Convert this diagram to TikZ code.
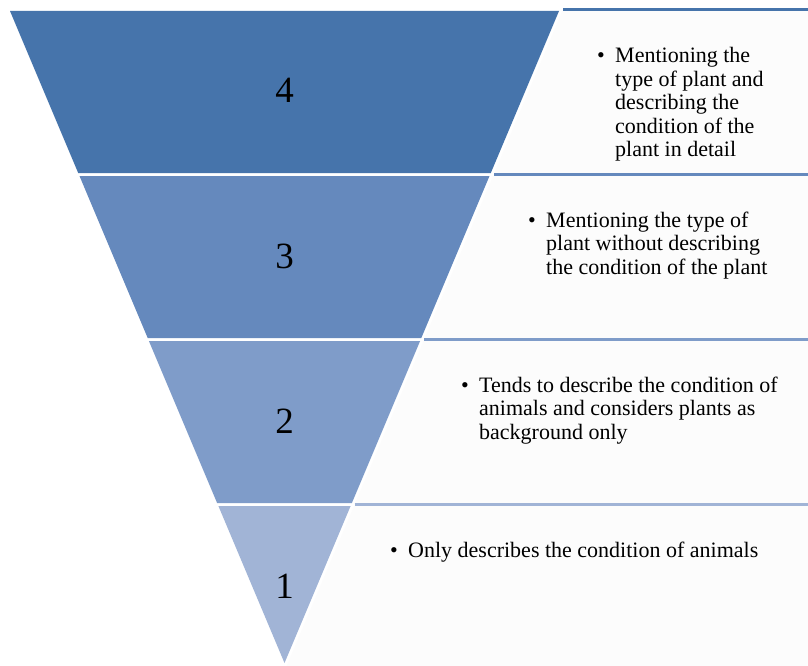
\documentclass[tikz,border=0pt]{standalone}
\usepackage{fontspec}
\setmainfont{Liberation Serif}
\definecolor{bandD}{HTML}{4674AB}
\definecolor{bandC}{HTML}{6589BD}
\definecolor{bandB}{HTML}{7F9CC9}
\definecolor{bandA}{HTML}{A1B4D6}
\definecolor{boxfill}{HTML}{FCFCFC}
\tikzset{
  band/.style={fill=#1, draw=none},
  infobox/.style={fill=boxfill, draw=none},
  topline/.style={draw=#1, line width=3pt},
  levelnum/.style={font=\fontsize{37}{40}\selectfont, anchor=base, inner sep=0pt},
  info/.style={font=\fontsize{22}{23.5}\selectfont, anchor=base west, inner sep=0pt}
}
\newcommand{\bulletlist}[1]{\begin{tabular}[t]{@{}p{18pt}@{}l@{}}\textbullet & #1\end{tabular}}
\begin{document}
\begin{tikzpicture}[x=1pt,y=-1pt]
\useasboundingbox (0,0) rectangle (808,666);
\fill[white] (0,0) rectangle (808,666);
% right-hand boxes
\path[infobox] (563,9.5) -- (808,9.5) -- (808,174) -- (494,174) -- cycle;
\path[infobox] (494,174) -- (808,174) -- (808,339) -- (424.4,339) -- cycle;
\path[infobox] (424.4,339) -- (808,339) -- (808,504.5) -- (354.7,504.5) -- cycle;
\path[infobox] (354.7,504.5) -- (808,504.5) -- (808,666) -- (286.7,666) -- cycle;
\draw[topline=bandD] (563,9.5) -- (808,9.5);
\draw[topline=bandC] (494,174) -- (808,174);
\draw[topline=bandB] (424.4,339) -- (808,339);
\draw[topline=bandA] (354.7,504.5) -- (808,504.5);
% inverted pyramid
\path[band=bandD] (10,11) -- (559,11) -- (490.8,173) -- (78.2,173) -- cycle;
\path[band=bandC] (79.5,176) -- (489.5,176) -- (421.3,338) -- (147.7,338) -- cycle;
\path[band=bandB] (148.9,341) -- (420.1,341) -- (351.9,503) -- (217.1,503) -- cycle;
\path[band=bandA] (218.4,506) -- (350.6,506) -- (284.5,663) -- cycle;
% level numbers
\node[levelnum] (n4) at (284.5,103) {4};
\node[levelnum] (n3) at (284.5,268) {3};
\node[levelnum] (n2) at (284.5,433) {2};
\node[levelnum] (n1) at (284.5,598) {1};
% descriptions
\node[info] (t4) at (597,63) {\bulletlist{Mentioning the\\ & type of plant and\\ & describing the\\ & condition of the\\ & plant in detail}};
\node[info] (t3) at (528,227) {\bulletlist{Mentioning the type of\\ & plant without describing\\ & the condition of the plant}};
\node[info] (t2) at (461,392) {\bulletlist{Tends to describe the condition of\\ & animals and considers plants as\\ & background only}};
\node[info] (t1) at (390,557) {\bulletlist{Only describes the condition of animals}};
\end{tikzpicture}
\end{document}
